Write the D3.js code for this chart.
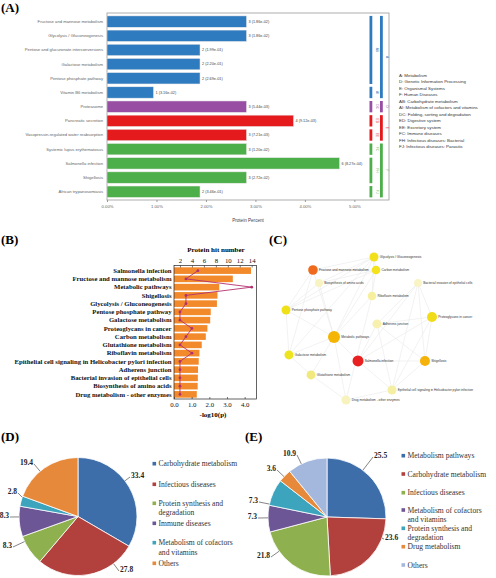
<!DOCTYPE html>
<html><head><meta charset="utf-8">
<script src="https://cdn.jsdelivr.net/npm/d3@7"></script>
<style>body{margin:0;background:#fff}svg{display:block}</style>
</head><body><svg id="c" width="496" height="578"></svg>
<script>
// ---------- Panel A data ----------
const aCategories = ["Fructose and mannose metabolism","Glycolysis / Gluconeogenesis","Pentose and glucuronate interconversions","Galactose metabolism","Pentose phosphate pathway","Vitamin B6 metabolism","Proteasome","Pancreatic secretion","Vasopressin-regulated water reabsorption","Systemic lupus erythematosus","Salmonella infection","Shigellosis","African trypanosomiasis"];
const aPercent = [2.82,2.82,1.88,1.88,1.88,0.94,2.82,3.77,2.82,2.82,4.70,2.82,1.88];
const aValueLabels = ["3 (1.86e-02)","3 (1.86e-02)","2 (1.99e-01)","2 (2.20e-01)","2 (2.69e-01)","1 (3.16e-02)","3 (5.44e-03)","4 (9.12e-03)","3 (7.21e-03)","3 (1.20e-02)","6 (8.27e-04)","3 (2.72e-02)","2 (3.46e-01)"];
const aGroup = ["A","A","A","A","A","A","D","E","E","F","F","F","F"];
const aSubGroup = ["AB","AB","AB","AB","AB","AI","DC","ED","EE","FC","FH","FH","FJ"];
const aTickValues = [0,1,2,3,4,5];
const aTickLabels = ["0.00%","1.00%","2.00%","3.00%","4.00%","5.00%"];
const aLegend = ["A: Metabolism","D: Genetic Information Processing","E: Organismal Systems","F: Human Diseases","AB: Carbohydrate metabolism","AI: Metabolism of cofactors and vitamins","DC: Folding, sorting and degradation","ED: Digestive system","EE: Excretory system","FC: Immune diseases","FH: Infectious diseases: Bacterial","FJ: Infectious diseases: Parasitic"];
const aGroupColors = {A:"#2f7bbf",D:"#984ea3",E:"#e41a1c",F:"#4daf4a"};

// ---------- Panel B data ----------
const bCategories = ["Salmonella infection","Fructose and mannose metabolism","Metabolic pathways","Shigellosis","Glycolysis / Gluconeogenesis","Pentose phosphate pathway","Galactose metabolism","Proteoglycans in cancer","Carbon metabolism","Glutathione metabolism","Riboflavin metabolism","Epithelial cell signaling in Helicobacter pylori infection","Adherens junction","Bacterial invasion of epithelial cells","Biosynthesis of amino acids","Drug metabolism - other enzymes"];
const bLogP = [4.36,3.33,2.56,2.46,2.43,2.08,2.05,1.89,1.80,1.57,1.44,1.40,1.36,1.35,1.34,1.29];
const bHits = [5,3,14,3,3,2,2,4,3,2,4,2,2,2,2,2];
const bTopTicks = [2,4,6,8,10,12,14];
const bBottomTicks = [0,1,2,3,4];

// ---------- Panel C data ----------
const cNodes = ["Glycolysis / Gluconeogenesis","Fructose and mannose metabolism","Carbon metabolism","Biosynthesis of amino acids","Bacterial invasion of epithelial cells","Riboflavin metabolism","Pentose phosphate pathway","Proteoglycans in cancer","Adherens junction","Metabolic pathways","Galactose metabolism","Salmonella infection","Shigellosis","Glutathione metabolism","Epithelial cell signaling in Helicobacter pylori infection","Drug metabolism - other enzymes"];
const cColors = ["#f2e11a","#f06a1e","#f3e21c","#f8f3c2","#f9f4c6","#f6ef9e","#efe01a","#f0dc18","#f7f0ae","#f5b505","#ede31e","#e8201f","#f5b20a","#f1e97e","#f5efa4","#f8f2bf"];
// layout in a 0-100 grid (network layout, mapped through scales)
const cLayoutX = [58.75,20.6,60,24.4,86.25,57.5,3.75,95,60.6,33.75,5.6,48.75,90.6,19.4,70,41.25];
const cLayoutY = [4.5,12.9,12.9,21.3,21.3,29.7,38.7,43.2,47.7,56.1,67.7,71.6,71.6,80.6,90.3,96.8];
const cRadius = [4.5,4.8,4.3,4,4,4.3,4.5,5,4.5,6,4.5,5.5,5,4.5,4.5,4.5];
const cEdges = [[0,1],[0,2],[0,9],[0,6],[0,10],[0,3],[1,9],[1,6],[1,2],[1,10],[2,3],[2,9],[2,6],[3,9],[3,6],[4,11],[4,12],[4,7],[4,8],[4,14],[5,9],[5,15],[6,9],[6,10],[7,11],[7,12],[7,8],[7,14],[8,11],[8,12],[8,14],[9,10],[9,13],[9,15],[9,11],[11,12],[11,14],[12,14],[13,15],[13,10],[14,15],[5,2],[0,5]];

// ---------- Panel D data ----------
const dNames = ["Carbohydrate metabolism","Infectious diseases","Protein synthesis and degradation","Immune diseases","Metabolism of cofactors and vitamins","Others"];
const dLegendLines = [["Carbohydrate metabolism"],["Infectious diseases"],["Protein synthesis and","degradation"],["Immune diseases"],["Metabolism of cofactors","and vitamins"],["Others"]];
const dValues = [33.4,27.8,8.3,8.3,2.8,19.4];
const dColors = ["#3e6ea9","#b2413e","#8fb04f","#6d5696","#3da4be","#e7893a"];

// ---------- Panel E data ----------
const eNames = ["Metabolism pathways","Carbohydrate metabolism","Infectious diseases","Metabolism of cofactors and vitamins","Protein synthesis and degradation","Drug metabolism","Others"];
const eLegendLines = [["Metabolism pathways"],["Carbohydrate metabolism"],["Infectious diseases"],["Metabolism of cofactors","and vitamins"],["Protein synthesis and","degradation"],["Drug metabolism"],["Others"]];
const eValues = [25.5,23.6,21.8,7.3,7.3,3.6,10.9];
const eColors = ["#3e6ea9","#b2413e","#8fb04f","#6d5696","#3da4be","#e7893a","#a4b7dd"];

const svg = d3.select("#c");
const SANS = "Liberation Sans, Arial, sans-serif";
const SERIF = "Liberation Serif, Times New Roman, serif";

function panelLabel(x, y, t, anchor) {
  svg.append("text").attr("x", x).attr("y", y).attr("font-family", SERIF).attr("font-weight", "bold")
    .attr("font-size", 13).attr("text-anchor", anchor || "start").text(t);
}

// ================= Panel A =================
panelLabel(1, 12, "(A)");
const gA = svg.append("g");
const xA = d3.scaleLinear().domain([0, 5.7]).range([107, 389]);
const yA = d3.scaleBand().domain(aCategories).range([14.5, 198.8]).paddingInner(0.2).paddingOuter(0.1);
gA.append("rect").attr("x", 107).attr("y", 13).attr("width", 282).attr("height", 187)
  .attr("fill", "none").attr("stroke", "#9a9a9a").attr("stroke-width", 0.8);
gA.selectAll("rect.bar").data(aCategories).join("rect").attr("class", "bar")
  .attr("x", xA(0)).attr("y", d => yA(d)).attr("height", yA.bandwidth())
  .attr("width", (d, i) => xA(aPercent[i]) - xA(0))
  .attr("fill", (d, i) => aGroupColors[aGroup[i]]).attr("stroke", "#e8e8e8").attr("stroke-width", 0.5);
gA.selectAll("text.cat").data(aCategories).join("text").attr("class", "cat")
  .attr("x", 103).attr("y", d => yA(d) + yA.bandwidth() / 2).attr("dy", "0.35em")
  .attr("text-anchor", "end").attr("font-family", SANS).attr("font-size", 4.2).attr("fill", "#666").text(d => d);
gA.selectAll("text.val").data(aCategories).join("text").attr("class", "val")
  .attr("x", (d, i) => xA(aPercent[i]) + 2).attr("y", d => yA(d) + yA.bandwidth() / 2).attr("dy", "0.35em")
  .attr("font-family", SANS).attr("font-size", 3.8).attr("fill", "#444").text((d, i) => aValueLabels[i]);
const axA = gA.append("g").attr("transform", "translate(0,200)")
  .call(d3.axisBottom(xA).tickValues(aTickValues).tickSize(2).tickPadding(3).tickFormat((d, i) => aTickLabels[i]));
axA.select(".domain").remove();
axA.selectAll("line").attr("stroke", "#999");
axA.selectAll("text").attr("font-family", SANS).attr("font-size", 4.2).attr("fill", "#666");
gA.append("text").attr("x", 248).attr("y", 221.5).attr("text-anchor", "middle").attr("font-family", SANS)
  .attr("font-size", 4.6).attr("fill", "#444").text("Protein Percent");

function runs(arr) {
  const out = [];
  arr.forEach((g, i) => {
    if (out.length && out[out.length - 1].key === g) out[out.length - 1].end = i;
    else out.push({ key: g, start: i, end: i });
  });
  return out;
}
function bracketCol(arr, x, lx) {
  runs(arr).forEach(r => {
    const y0 = yA(aCategories[r.start]), y1 = yA(aCategories[r.end]) + yA.bandwidth();
    const col = aGroupColors[r.key[0]];
    gA.append("rect").attr("x", x).attr("y", y0).attr("width", 2.8).attr("height", y1 - y0).attr("fill", col);
    gA.append("text").attr("transform", `translate(${lx},${(y0 + y1) / 2}) rotate(90)`)
      .attr("text-anchor", "middle").attr("font-family", SANS).attr("font-size", 3.2).attr("fill", col).text(r.key);
  });
}
bracketCol(aSubGroup, 369.5, 375.5);
bracketCol(aGroup, 380, 385.5);
const yLegA = d3.scalePoint().domain(aLegend).range([75.3, 146.7]);
gA.selectAll("text.leg").data(aLegend).join("text").attr("class", "leg")
  .attr("x", 399).attr("y", d => yLegA(d)).attr("dy", "0.35em")
  .attr("font-family", SANS).attr("font-size", 4.4).attr("fill", "#333").text(d => d);

// ================= Panel B =================
panelLabel(1, 244, "(B)");
const gB = svg.append("g");
const xB = d3.scaleLinear().domain([0, 4.67]).range([174, 256.5]);
const xB2 = d3.scaleLinear().domain([1, 14.8]).range([174, 256.5]);
const yB = d3.scaleBand().domain(bCategories).range([266.5, 398.5]).paddingInner(0.2).paddingOuter(0.1);
gB.selectAll("rect.bar").data(bCategories).join("rect").attr("class", "bar")
  .attr("x", xB(0)).attr("y", d => yB(d)).attr("height", yB.bandwidth())
  .attr("width", (d, i) => xB(bLogP[i]) - xB(0)).attr("fill", "#f28a2c");
gB.append("rect").attr("x", 174).attr("y", 265.5).attr("width", 82.5).attr("height", 133.5)
  .attr("fill", "none").attr("stroke", "#222").attr("stroke-width", 0.7);
const axBt = gB.append("g").attr("transform", "translate(0,265.5)")
  .call(d3.axisTop(xB2).tickValues(bTopTicks).tickSize(-2).tickPadding(3));
const axBb = gB.append("g").attr("transform", "translate(0,399)")
  .call(d3.axisBottom(xB).tickValues(bBottomTicks).tickSize(-2).tickPadding(3));
[axBt, axBb].forEach(a => {
  a.select(".domain").remove();
  a.selectAll("line").attr("stroke", "#222").attr("stroke-width", 0.6);
  a.selectAll("text").attr("font-family", SERIF).attr("font-size", 6.8).attr("fill", "#111");
});
gB.append("text").attr("x", 216).attr("y", 252).attr("text-anchor", "middle").attr("font-family", SERIF)
  .attr("font-weight", "bold").attr("font-size", 7).text("Protein hit number");
gB.append("text").attr("x", 213).attr("y", 417).attr("text-anchor", "middle").attr("font-family", SERIF)
  .attr("font-weight", "bold").attr("font-size", 7).text("-log10(p)");
gB.selectAll("text.cat").data(bCategories).join("text").attr("class", "cat")
  .attr("x", 171.5).attr("y", d => yB(d) + yB.bandwidth() / 2).attr("dy", "0.35em")
  .attr("text-anchor", "end").attr("font-family", SERIF).attr("font-weight", "bold")
  .attr("font-size", 6.7).attr("fill", "#111").text(d => d);
const lineB = d3.line().x((d, i) => xB2(bHits[i])).y(d => yB(d) + yB.bandwidth() / 2);
gB.append("path").attr("d", lineB(bCategories)).attr("fill", "none").attr("stroke", "#b3306e").attr("stroke-width", 0.9);
gB.selectAll("circle").data(bCategories).join("circle")
  .attr("cx", (d, i) => xB2(bHits[i])).attr("cy", d => yB(d) + yB.bandwidth() / 2).attr("r", 1.4).attr("fill", "#b3306e");

// ================= Panel C =================
panelLabel(278, 244, "(C)", "middle");
const gC = svg.append("g");
const xC = d3.scaleLinear().domain([0, 100]).range([280, 440]);
const yC = d3.scaleLinear().domain([0, 100]).range([250, 405]);
gC.selectAll("line").data(cEdges).join("line")
  .attr("x1", d => xC(cLayoutX[d[0]])).attr("y1", d => yC(cLayoutY[d[0]]))
  .attr("x2", d => xC(cLayoutX[d[1]])).attr("y2", d => yC(cLayoutY[d[1]]))
  .attr("stroke", "#e9e9e9").attr("stroke-width", 0.6);
gC.selectAll("circle").data(cNodes).join("circle")
  .attr("cx", (d, i) => xC(cLayoutX[i])).attr("cy", (d, i) => yC(cLayoutY[i]))
  .attr("r", (d, i) => cRadius[i]).attr("fill", (d, i) => cColors[i]);
gC.selectAll("text").data(cNodes).join("text")
  .attr("x", (d, i) => xC(cLayoutX[i]) + cRadius[i] + 1.2).attr("y", (d, i) => yC(cLayoutY[i])).attr("dy", "0.35em")
  .attr("font-family", SANS).attr("font-size", 3.2).attr("fill", "#333").text(d => d);

// ================= Pies =================
function drawPie(cx, cy, r, values, colors, labelOffsets, legendLines, legendYs, sqX, txX) {
  const g = svg.append("g");
  const arcs = d3.pie().sort(null).value(d => d)(values);
  const arc = d3.arc().innerRadius(0).outerRadius(r);
  const gp = g.append("g").attr("transform", `translate(${cx},${cy})`);
  gp.selectAll("path").data(arcs).join("path").attr("d", arc)
    .attr("fill", (d, i) => colors[i]).attr("stroke", "#fff").attr("stroke-width", 0.8);
  arcs.forEach((a, i) => {
    const [dx, dy, anchor] = labelOffsets[i];
    let ang = Math.atan2(dx, -dy); if (ang < 0) ang += 2 * Math.PI;
    const m = 0.02;
    ang = Math.max(a.startAngle + m, Math.min(a.endAngle - m, ang));
    const sx = r * Math.sin(ang), sy = -r * Math.cos(ang);
    gp.append("line").attr("x1", sx).attr("y1", sy).attr("x2", dx).attr("y2", dy)
      .attr("stroke", "#333").attr("stroke-width", 0.6);
    gp.append("text").attr("x", dx + (anchor === "start" ? 1 : -1)).attr("y", dy - 2).attr("dy", "0.35em")
      .attr("text-anchor", anchor).attr("font-family", SERIF).attr("font-weight", "bold")
      .attr("font-size", 7.5).attr("fill", "#222").text(values[i].toFixed(1));
  });
  legendLines.forEach((lines, i) => {
    g.append("rect").attr("x", sqX).attr("y", legendYs[i] - 1.8).attr("width", 3.6).attr("height", 3.6).attr("fill", colors[i]);
    lines.forEach((t, j) => {
      g.append("text").attr("x", txX).attr("y", legendYs[i] + j * 9.5).attr("dy", "0.35em")
        .attr("font-family", SERIF).attr("font-size", 7.6).attr("fill", "#333").text(t);
    });
  });
}
panelLabel(1, 441, "(D)");
drawPie(78, 516.5, 59, dValues, dColors,
  [[52, -39.5, "start"], [41, 54.5, "start"], [-65, 30.5, "end"], [-68, 0.5, "end"], [-60, -23.5, "end"], [-44, -52.5, "end"]],
  dLegendLines, [463.7, 484.3, 503.3, 523.3, 542.7, 563.3], 152.5, 158.5);
panelLabel(245, 441, "(E)");
drawPie(327, 517, 59, eValues, eColors,
  [[46, -60, "start"], [57, 22, "start"], [-56, 40, "end"], [-69, 1, "end"], [-68, -15, "end"], [-50, -47, "end"], [-30, -62, "end"]],
  eLegendLines, [455.7, 474, 492.7, 510, 528.3, 546.7, 565], 401.5, 407.5);
</script></body></html>
